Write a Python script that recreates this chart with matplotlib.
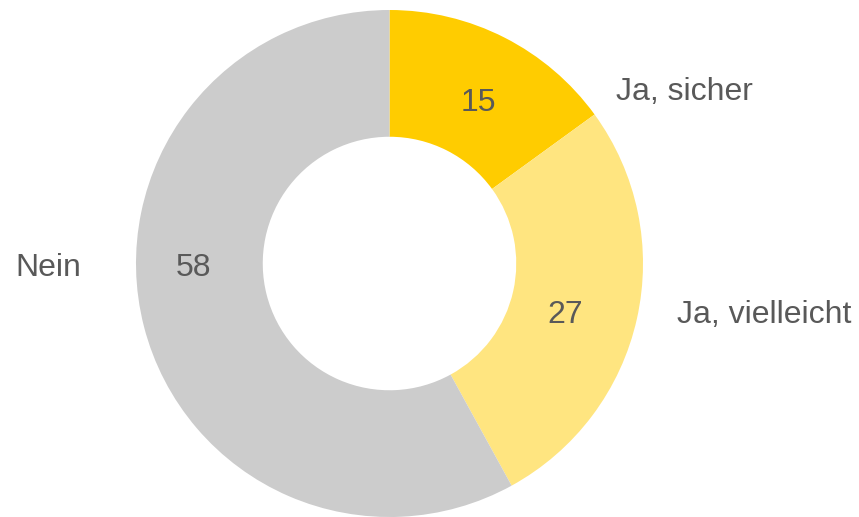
import matplotlib
matplotlib.use("Agg")
import matplotlib.pyplot as plt

# Daten
labels = ["Ja, sicher", "Ja, vielleicht", "Nein"]
values = [15, 27, 58]
colors = ["#FFCC00", "#FFE580", "#CCCCCC"]

# Layout (Pixel, Figur 859x517)
cx, cy, radius = 389.5, 517 - 263.5, 253.5
# Textpositionen relativ zum Mittelpunkt, in Einheiten des Radius
value_pos = [(0.351, 0.635), (0.694, -0.205), (-0.773, -0.018)]
label_pos = [(1.165, 0.677), (1.477, -0.205), (-1.347, -0.018)]
text_color = "#595959"
font = "Liberation Sans"

fig = plt.figure(figsize=(8.59, 5.17), dpi=100)
ax = fig.add_axes([0, 0, 1, 1])

ax.pie(values, colors=colors, startangle=90, counterclock=False,
       center=(cx, cy), radius=radius,
       wedgeprops=dict(width=radius * 0.5, linewidth=0))

for v, (vx, vy) in zip(values, value_pos):
    ax.text(cx + vx * radius, cy + vy * radius, str(v), ha="center", va="center",
            fontsize=23, color=text_color, family=font)

for lab, (lx, ly) in zip(labels, label_pos):
    ax.text(cx + lx * radius, cy + ly * radius, lab, ha="center", va="center",
            fontsize=23, color=text_color, family=font)

ax.set_xlim(0, 859)
ax.set_ylim(0, 517)
ax.set_aspect("equal")
ax.axis("off")

fig.savefig("out.png", dpi=100)
